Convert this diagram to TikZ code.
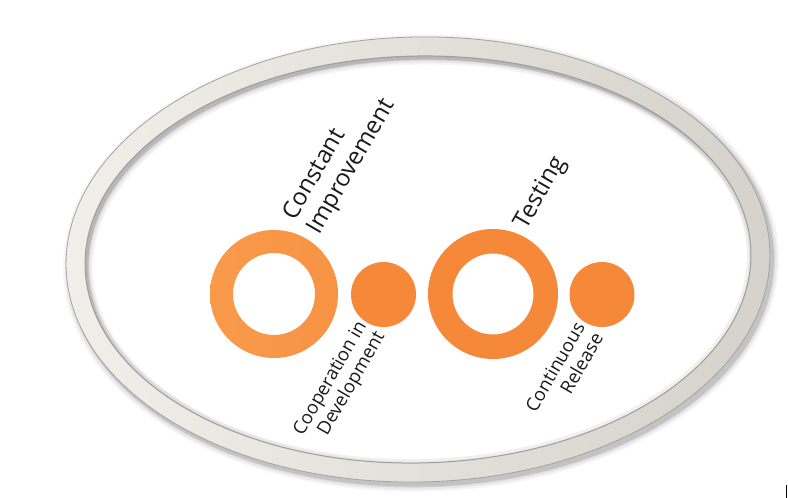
\documentclass[tikz,border=0pt]{standalone}
\usepackage{fontspec}
\setmainfont{Open Sans}
\definecolor{ringlight}{HTML}{F0EFE9}
\definecolor{ringdark}{HTML}{D4D2CB}
\definecolor{ringedge}{HTML}{A5A39D}
\definecolor{orangeA}{HTML}{F99A4A}
\definecolor{orangeB}{HTML}{F6883A}
\definecolor{txt}{HTML}{1A1A1A}
\begin{document}
\begin{tikzpicture}[x=1pt,y=-1pt,
  biglabel/.style={text=txt, inner sep=0pt, rotate=60, font=\fontsize{24}{28}\selectfont},
  smalllabel/.style={text=txt, inner sep=0pt, rotate=60, font=\fontsize{18.5}{21}\selectfont},
  dot/.style={circle, inner sep=0pt, minimum size=65pt, fill=orangeB, draw=none}]
\useasboundingbox (0,0) rectangle (788,498);
\fill[white] (0,0) rectangle (788,498);
% frame shadow
\begin{scope}[shift={(421,263)}, rotate=1.2]
  \foreach \w/\o in {30/0.04,26/0.05,22/0.07,20/0.09} {
    \draw[black, opacity=\o, line width=\w pt] (0,0) ellipse [x radius=343, y radius=213.5];
  }
\end{scope}
\begin{scope}[shift={(418,259.5)}, rotate=1.2]
  \path[even odd rule, left color=ringlight, right color=ringdark]
    (0,0) ellipse [x radius=352, y radius=222.5]
    (0,0) ellipse [x radius=333, y radius=203.5];
  \draw[ringedge, line width=0.8pt] (0,0) ellipse [x radius=352, y radius=222.5];
  \draw[ringedge, line width=1pt] (0,0) ellipse [x radius=333, y radius=203.5];
  \draw[black, opacity=0.06, line width=4pt] (0,0) ellipse [x radius=331, y radius=201.5];
\end{scope}
% orange rings and dots
\path[even odd rule, left color=orangeA, right color=orangeA!60!orangeB]
  (274,294) circle [radius=64] (274,294) circle [radius=41];
\path[even odd rule, fill=orangeB]
  (493,294) circle [radius=65] (493,294) circle [radius=40.5];
\coordinate (r1) at (274,294);
\coordinate (r2) at (493,294);
\node[dot] (d1) at (383.5,294.5) {};
\node[dot] (d2) at (602,294.5) {};
% labels
\node[biglabel, align=left] (ci) at (340,160) {Constant\\Improvement};
\node[biglabel] (te) at (541,193) {Testing};
\node[smalllabel, align=right] (cd) at (340,384) {Cooperation in\\Development};
\node[smalllabel, align=right] (cr) at (564,372) {Continuous\\Release};
% stray mark
\draw[black, line width=1pt] (786.5,485) -- (786.5,498);
\end{tikzpicture}
\end{document}
